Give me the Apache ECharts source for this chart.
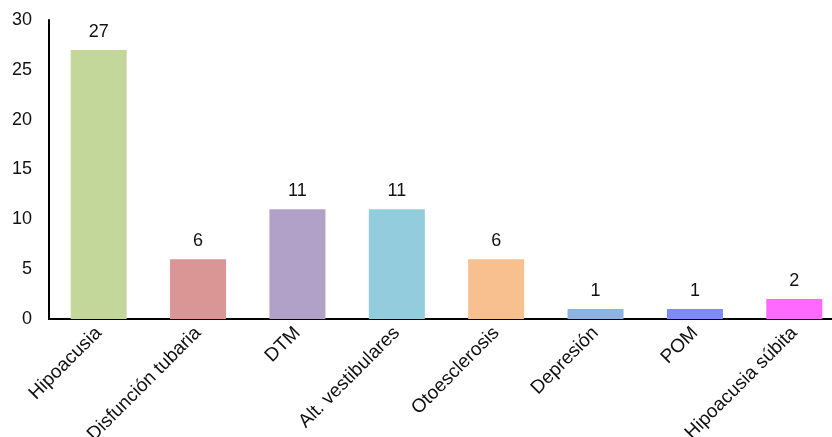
<!DOCTYPE html>
<html>
<head>
<meta charset="utf-8">
<script src="https://cdn.jsdelivr.net/npm/echarts@6/dist/echarts.min.js"></script>
<style>
  html, body { margin: 0; padding: 0; background: #fff; }
  #chart_view { width: 832px; height: 437px; }
</style>
</head>
<body>
<div id="chart_view"></div>
<script>
var categories = ['Hipoacusia', 'Disfunción tubaria', 'DTM', 'Alt. vestibulares', 'Otoesclerosis', 'Depresión', 'POM', 'Hipoacusia súbita'];
var values = [27, 6, 11, 11, 6, 1, 1, 2];
var barColors = ['#c4d79b', '#d99694', '#b1a0c7', '#93cddd', '#f9c08f', '#8db3e2', '#7f8aff', '#ff69ff'];
var yTicks = [0, 5, 10, 15, 20, 25, 30];

var myChart = echarts.init(document.getElementById('chart_view'));

var font = 'Liberation Sans, Arial, Helvetica, sans-serif';

var option = {
    animation: false,
    grid: { left: 49, top: 20, width: 795, height: 299, outerBoundsMode: 'none', containLabel: false },
    xAxis: {
        type: 'category',
        data: categories,
        axisLine: { lineStyle: { color: '#000', width: 2 } },
        axisTick: { show: false },
        axisLabel: {
            rotate: 45,
            interval: 0,
            margin: 11,
            fontSize: 19,
            color: '#111',
            fontFamily: font
        }
    },
    yAxis: {
        type: 'value',
        min: yTicks[0],
        max: yTicks[yTicks.length - 1],
        interval: 5,
        axisLine: { show: true, lineStyle: { color: '#000', width: 2 } },
        axisTick: { show: false },
        splitLine: { show: false },
        axisLabel: {
            margin: 17,
            fontSize: 18,
            color: '#111',
            fontFamily: font
        }
    },
    series: [
        {
            type: 'bar',
            barWidth: 56,
            data: values.map(function (v, i) {
                return { value: v, itemStyle: { color: barColors[i] } };
            }),
            label: {
                show: true,
                position: 'top',
                distance: 9,
                fontSize: 18,
                color: '#111',
                fontFamily: font
            }
        }
    ]
};

myChart.setOption(option);
</script>
</body>
</html>
